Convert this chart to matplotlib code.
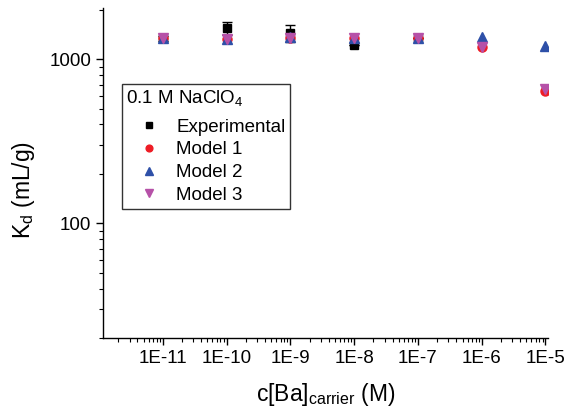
import matplotlib
matplotlib.use("Agg")
import matplotlib.pyplot as plt
from matplotlib.ticker import LogLocator, FixedLocator, FixedFormatter, NullFormatter

plt.rcParams['font.family'] = ['Liberation Sans', 'DejaVu Sans']

conc = [1e-11, 1e-10, 1e-9, 1e-8, 1e-7, 1e-6, 1e-5]
conc_labels = ["1E-11", "1E-10", "1E-9", "1E-8", "1E-7", "1E-6", "1E-5"]

exp_conc = [1e-11, 1e-10, 1e-9, 1e-8, 1e-7]
exp_kd = [1340, 1546, 1440, 1217, 1340]
exp_err = [45, 135, 165, 0, 0]

model1 = [1340, 1325, 1340, 1345, 1340, 1184, 638]
model2 = [1345, 1330, 1362, 1350, 1345, 1362, 1200]
model3 = [1340, 1325, 1340, 1345, 1340, 1184, 656]

fig = plt.figure(figsize=(5.68, 4.11), dpi=100)
ax = fig.add_axes([0.1813, 0.1776, 0.7837, 0.8029])

ax.errorbar(exp_conc, exp_kd, yerr=exp_err, fmt='none', ecolor='black',
            capsize=3.5, elinewidth=1, capthick=1, zorder=2)
ax.plot(exp_conc, exp_kd, 's', color='black', ms=6, label='Experimental', zorder=2)
ax.plot(conc, model1, 'o', color='#ee1c25', ms=6.5, label='Model 1', zorder=3)
ax.plot(conc, model2, '^', color='#2e50a8', ms=7.5, label='Model 2', zorder=4)
ax.plot(conc, model3, 'v', color='#b651a8', ms=7.5, label='Model 3', zorder=5)

ax.set_xscale('log')
ax.set_yscale('log')
ax.set_xlim(1.15e-12, 1.1e-5)
ax.set_ylim(20, 2050)

ax.xaxis.set_major_locator(FixedLocator(conc))
ax.xaxis.set_major_formatter(FixedFormatter(conc_labels))
ax.xaxis.set_minor_locator(LogLocator(base=10, subs=range(2, 10), numticks=20))
ax.xaxis.set_minor_formatter(NullFormatter())

ax.yaxis.set_major_locator(FixedLocator([100, 1000]))
ax.yaxis.set_major_formatter(FixedFormatter(["100", "1000"]))
ax.yaxis.set_minor_locator(LogLocator(base=10, subs=range(2, 10), numticks=20))
ax.yaxis.set_minor_formatter(NullFormatter())

for s in ['top', 'right']:
    ax.spines[s].set_visible(False)
for s in ['left', 'bottom']:
    ax.spines[s].set_linewidth(1.0)

ax.tick_params(axis='both', which='major', direction='out', length=5, width=1,
               labelsize=13.5)
ax.tick_params(axis='both', which='minor', direction='out', length=3, width=0.8)

ax.set_xlabel(r'c[Ba]$_{\mathregular{carrier}}$ (M)', fontsize=16.5, labelpad=10)
ax.set_ylabel(r'K$_{\mathregular{d}}$ (mL/g)', fontsize=16.5)
ax.yaxis.set_label_coords(-0.148, 0.448)

leg = ax.legend(title=r'0.1 M NaClO$_{\mathregular{4}}$', loc='upper left',
                bbox_to_anchor=(0.042, 0.77), fontsize=13.5, title_fontsize=13.5,
                frameon=True, fancybox=False, edgecolor='black',
                handletextpad=0.22, borderpad=0.25, labelspacing=0.3,
                handlelength=2.45, markerscale=0.75, borderaxespad=0)
leg._legend_box.align = 'left'
leg._legend_box.sep = 7
leg.get_frame().set_linewidth(1.0)

fig.savefig('out.png', dpi=100)
